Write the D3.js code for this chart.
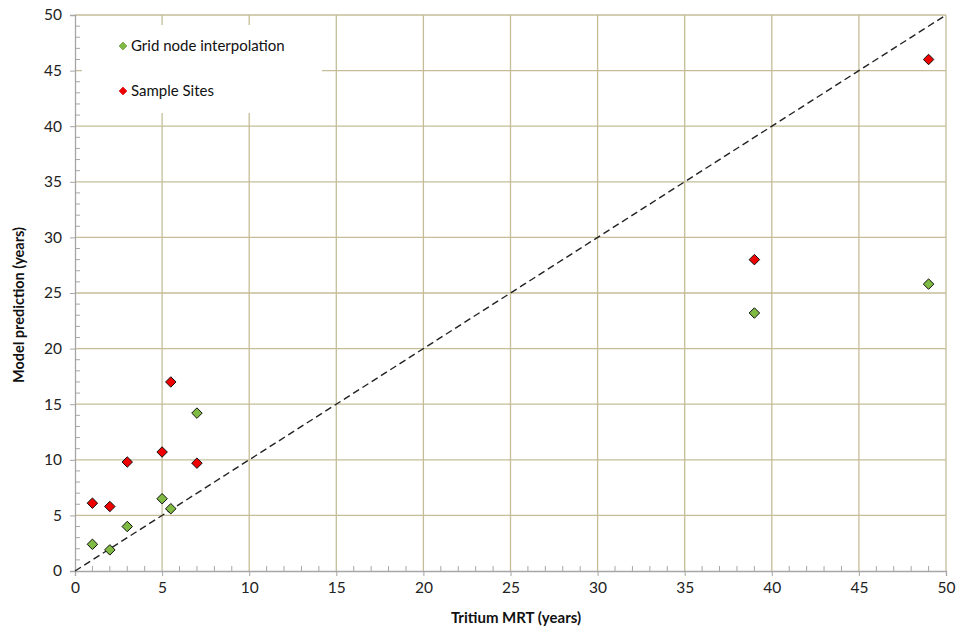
<!DOCTYPE html>
<html><head><meta charset="utf-8">
<script src="https://cdn.jsdelivr.net/npm/d3@7"></script>
<style>body{margin:0;background:#fff}svg{display:block;font-family:Lato,"Open Sans",sans-serif}</style>
</head><body><svg id="c" width="958" height="635"></svg>
<script>
const seriesNames = ["Grid node interpolation", "Sample Sites"];
const seriesColors = ["#7fba42", "#ee0000"];
const gridX = [1, 2, 3, 5, 5.5, 7, 39, 49];
const gridY = [2.4, 1.9, 4.0, 6.5, 5.6, 14.2, 23.2, 25.8];
const siteX = [1, 2, 3, 5, 5.5, 7, 39, 49];
const siteY = [6.1, 5.8, 9.8, 10.7, 17.0, 9.7, 28.0, 46.0];
const xTicks = [0, 5, 10, 15, 20, 25, 30, 35, 40, 45, 50];
const yTicks = [0, 5, 10, 15, 20, 25, 30, 35, 40, 45, 50];
const oneToOne = [[0, 0], [50, 50]];

const svg = d3.select("#c");
const L = 75, R = 946, T = 15, B = 571;
const x = d3.scaleLinear().domain([0, 50]).range([L, R]);
const y = d3.scaleLinear().domain([0, 50]).range([B, T]);
const gridCol = "#c4bd97", axisCol = "#a6a6a6";

// gridlines
svg.append("g").selectAll("line").data(xTicks.slice(1)).join("line")
  .attr("x1", d => x(d)).attr("x2", d => x(d)).attr("y1", T).attr("y2", B)
  .attr("stroke", gridCol).attr("stroke-width", 1.3);
svg.append("g").selectAll("line").data(yTicks.slice(1)).join("line")
  .attr("x1", L).attr("x2", R).attr("y1", d => y(d)).attr("y2", d => y(d))
  .attr("stroke", gridCol).attr("stroke-width", 1.3);

// legend background (covers gridlines)
svg.append("rect").attr("x", 82).attr("y", 25).attr("width", 240).attr("height", 88).attr("fill", "#fff");

// minor ticks
const minor = d3.range(1, 50);
svg.append("g").selectAll("line").data(minor.filter(d => d % 5)).join("line")
  .attr("x1", d => x(d)).attr("x2", d => x(d)).attr("y1", B).attr("y2", B - 5)
  .attr("stroke", axisCol);
svg.append("g").selectAll("line").data(minor.filter(d => d % 5)).join("line")
  .attr("x1", L).attr("x2", L + 5).attr("y1", d => y(d)).attr("y2", d => y(d))
  .attr("stroke", axisCol);

// axes
const xAxis = d3.axisBottom(x).tickValues(xTicks).tickSize(5).tickPadding(6);
const yAxis = d3.axisLeft(y).tickValues(yTicks).tickSize(5).tickPadding(8);
const gx = svg.append("g").attr("transform", `translate(0,${B})`).call(xAxis);
const gy = svg.append("g").attr("transform", `translate(${L},0)`).call(yAxis);
[gx, gy].forEach(g => {
  g.select(".domain").attr("stroke", axisCol).attr("stroke-width", 1.3);
  g.selectAll(".tick line").attr("stroke", axisCol);
  g.selectAll(".tick text").attr("fill", "#222").attr("font-size", 15.5).attr("font-family", "Lato, sans-serif");
});

// 1:1 line
svg.append("path").datum(oneToOne)
  .attr("d", d3.line().x(d => x(d[0])).y(d => y(d[1])))
  .attr("stroke", "#222").attr("stroke-width", 1.4).attr("stroke-dasharray", "7,4").attr("fill", "none");

// points
const sym = d3.symbol().type(d3.symbolDiamond2).size(70);
function plot(xs, ys, col) {
  svg.append("g").selectAll("path").data(xs.map((v, i) => [v, ys[i]])).join("path")
    .attr("d", sym).attr("transform", d => `translate(${x(d[0])},${y(d[1])})`)
    .attr("fill", col).attr("stroke", "#111").attr("stroke-width", 1);
}
plot(gridX, gridY, seriesColors[0]);
plot(siteX, siteY, seriesColors[1]);

// legend
const leg = svg.append("g");
seriesNames.forEach((n, i) => {
  const yy = 46 + i * 45;
  leg.append("path").attr("d", d3.symbol().type(d3.symbolDiamond2).size(40)())
    .attr("transform", `translate(123,${yy})`).attr("fill", seriesColors[i]).attr("stroke", i === 0 ? "#5a8a2a" : "#cc0000").attr("stroke-width", 0.6);
  leg.append("text").attr("x", 131).attr("y", yy).attr("dy", "0.35em")
    .attr("font-size", 15).attr("fill", "#111").text(n);
});

// axis titles
svg.append("text").attr("x", 516).attr("y", 623).attr("text-anchor", "middle")
  .attr("font-weight", "bold").attr("font-size", 15).attr("fill", "#111").text("Tritium MRT (years)");
svg.append("text").attr("transform", `translate(24,305) rotate(-90)`).attr("text-anchor", "middle")
  .attr("font-weight", "bold").attr("font-size", 14.5).attr("fill", "#111").text("Model prediction (years)");
</script></body></html>
